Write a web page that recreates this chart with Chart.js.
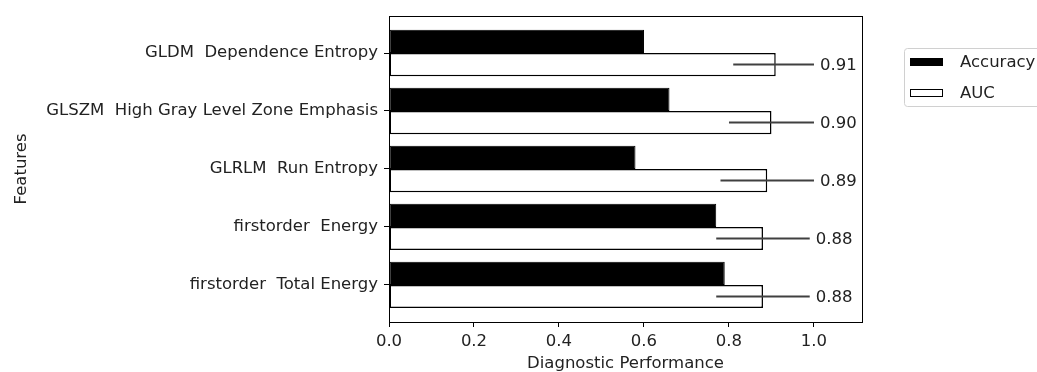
<!DOCTYPE html>
<html>
<head>
<meta charset="utf-8">
<script src="https://cdn.jsdelivr.net/npm/chart.js@4.4.1/dist/chart.umd.min.js"></script>
<style>
  html, body { margin: 0; padding: 0; background: #fff; overflow: hidden; }
</style>
</head>
<body>
<canvas id="chart" width="1037" height="372"></canvas>
<script>
// ---------- DATA ----------
const features = [
  "GLDM  Dependence Entropy",
  "GLSZM  High Gray Level Zone Emphasis",
  "GLRLM  Run Entropy",
  "firstorder  Energy",
  "firstorder  Total Energy"
];
const accuracy = [0.60, 0.66, 0.58, 0.77, 0.79];
const auc = [0.91, 0.90, 0.89, 0.88, 0.88];
const aucLow = [0.81, 0.80, 0.78, 0.77, 0.77];
const aucHigh = [1.00, 1.00, 1.00, 0.99, 0.99];
const aucLabels = ["0.91", "0.90", "0.89", "0.88", "0.88"];
const xTicks = [0, 0.2, 0.4, 0.6, 0.8, 1.0];

const FONT = "'DejaVu Sans', sans-serif";
const FS = 16.5;

// frame around the plot area (matplotlib style box)
const framePlugin = {
  id: "frame",
  afterDraw(chart) {
    const { ctx, chartArea: a } = chart;
    ctx.save();
    ctx.strokeStyle = "#000";
    ctx.lineWidth = 1;
    ctx.strokeRect(Math.round(a.left) + 0.5, Math.round(a.top) + 0.5,
      Math.round(a.right - a.left), Math.round(a.bottom - a.top));
    ctx.restore();
  }
};

// error bars + value text on the AUC bars
const errorPlugin = {
  id: "errbars",
  afterDatasetsDraw(chart) {
    const { ctx } = chart;
    const xs = chart.scales.x;
    const meta = chart.getDatasetMeta(1);
    ctx.save();
    ctx.strokeStyle = "#404040";
    ctx.lineWidth = 2;
    ctx.font = FS + "px " + FONT;
    ctx.fillStyle = "#222";
    ctx.textBaseline = "middle";
    meta.data.forEach((bar, i) => {
      const y = bar.y;
      const x0 = xs.getPixelForValue(aucLow[i]);
      const x1 = xs.getPixelForValue(aucHigh[i]);
      ctx.beginPath();
      ctx.moveTo(x0, y);
      ctx.lineTo(x1, y);
      ctx.stroke();
      ctx.fillText(aucLabels[i], x1 + 6, y + 1);
    });
    ctx.restore();
  }
};

// legend drawn outside the plot, at the right
const legendPlugin = {
  id: "sideLegend",
  afterDraw(chart) {
    const { ctx, chartArea: a } = chart;
    const x = a.right + 42, y = 48;
    ctx.save();
    ctx.fillStyle = "#fff";
    ctx.strokeStyle = "#d0d0d0";
    ctx.lineWidth = 1;
    ctx.beginPath();
    ctx.roundRect(x + 0.5, y + 0.5, 150, 58, 3);
    ctx.fill();
    ctx.stroke();
    ctx.font = FS + "px " + FONT;
    ctx.textBaseline = "middle";
    chart.data.datasets.forEach((ds, i) => {
      const ry = y + 14 + i * 31;
      ctx.fillStyle = ds.backgroundColor;
      ctx.fillRect(x + 6, ry - 4, 33, 8);
      ctx.strokeStyle = "#000";
      ctx.lineWidth = 1;
      ctx.strokeRect(x + 6.5, ry - 3.5, 32, 7);
      ctx.fillStyle = "#222";
      ctx.fillText(ds.label, x + 56, ry + 1);
    });
    ctx.restore();
  }
};

new Chart(document.getElementById("chart"), {
  type: "bar",
  data: {
    datasets: [
      {
        label: "Accuracy",
        data: accuracy.map((v, i) => ({ x: v, y: i })),
        backgroundColor: "#000",
        borderColor: "#000",
        borderWidth: 1,
        borderSkipped: false
      },
      {
        label: "AUC",
        data: auc.map((v, i) => ({ x: v, y: i })),
        backgroundColor: "#fff",
        borderColor: "#000",
        borderWidth: 1.5,
        borderSkipped: false
      }
    ]
  },
  options: {
    indexAxis: "y",
    responsive: false,
    animation: false,
    devicePixelRatio: 1,
    categoryPercentage: 0.8,
    barPercentage: 1,
    layout: { padding: { top: 14, right: 175, bottom: 0, left: 0 } },
    plugins: {
      legend: { display: false },
      tooltip: { enabled: false }
    },
    scales: {
      x: {
        type: "linear",
        min: 0,
        max: 1.113,
        afterFit: s => { s.height = 50; },
        afterBuildTicks: s => { s.ticks = xTicks.map(v => ({ value: v })); },
        grid: { drawOnChartArea: false, tickLength: 5, tickColor: "#000", tickWidth: 1 },
        border: { display: false },
        ticks: {
          color: "#222",
          padding: 5,
          maxRotation: 0,
          font: { family: FONT, size: FS },
          callback: v => v.toFixed(1)
        },
        title: {
          display: true,
          text: "Diagnostic Performance",
          color: "#222",
          font: { family: FONT, size: FS, lineHeight: 1 },
          padding: { top: 0, bottom: 0 }
        }
      },
      y: {
        type: "linear",
        reverse: true,
        offset: false,
        min: -0.64,
        max: 4.64,
        afterFit: s => { s.width = 389; },
        afterBuildTicks: s => { s.ticks = features.map((_, i) => ({ value: i })); },
        grid: { offset: false, drawOnChartArea: false, tickLength: 5, tickColor: "#000", tickWidth: 1 },
        border: { display: false },
        ticks: {
          color: "#222",
          padding: 6,
          autoSkip: false,
          font: { family: FONT, size: FS },
          callback: v => features[v] ?? ""
        },
        title: {
          display: true,
          text: "Features",
          color: "#222",
          font: { family: FONT, size: FS, lineHeight: 1 },
          padding: { top: 13, bottom: 0 }
        }
      }
    }
  },
  plugins: [errorPlugin, framePlugin, legendPlugin]
});
</script>
</body>
</html>
